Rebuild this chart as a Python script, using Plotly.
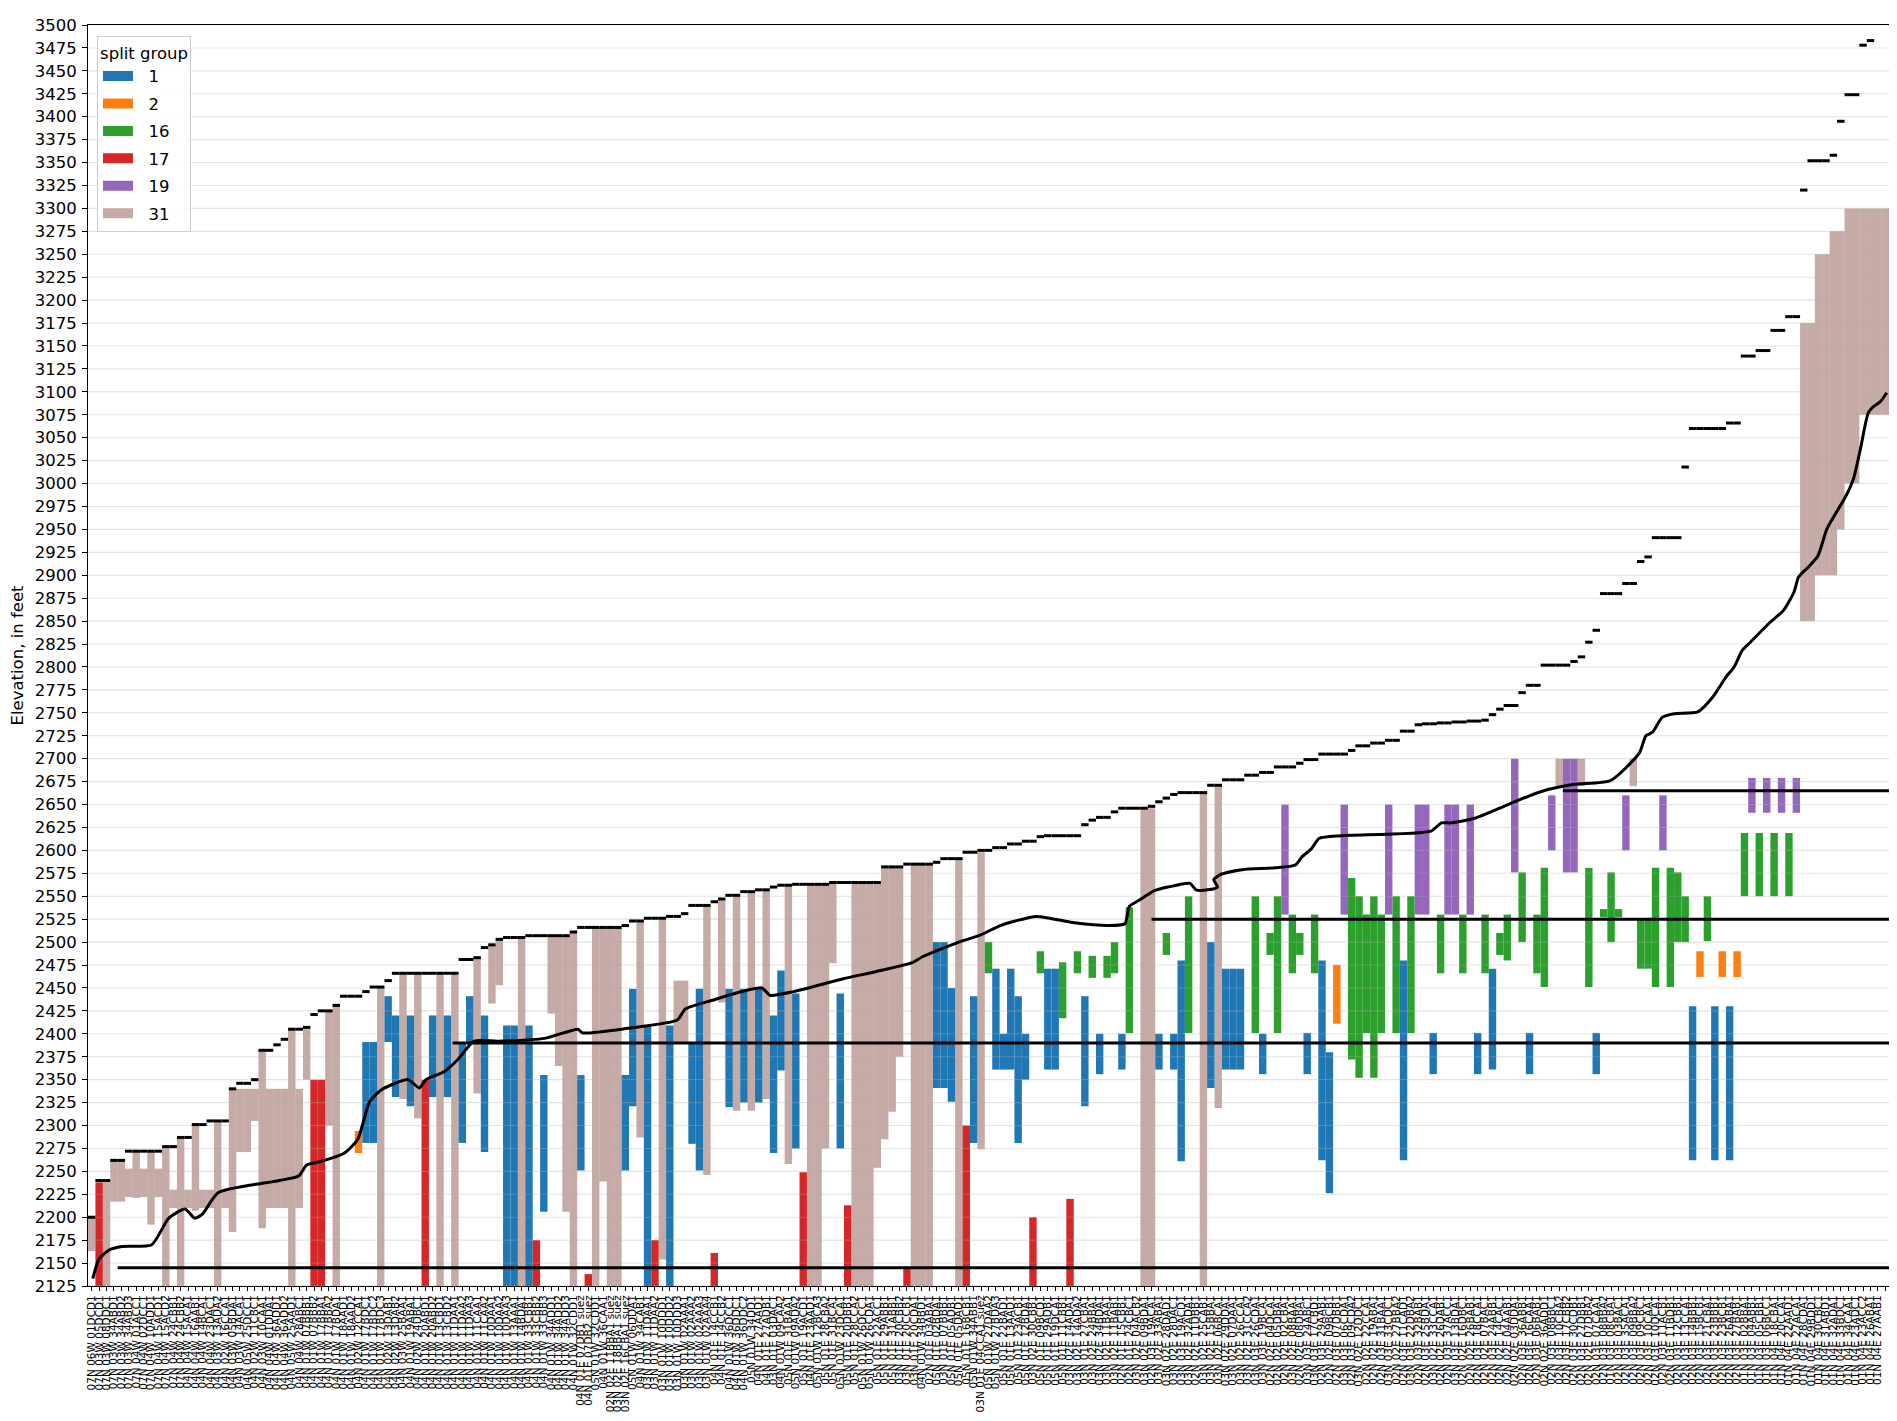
import plotly.graph_objects as go

# ---------------- data ----------------
labels = [
    "07N 06W 01DCD1","07N 03W 05DCD1","07N 03W 08DDC1","07N 03W 34ABD1","07N 03W 34ABD2","07N 03W 34ABD3","07N 04W 01ACC1","07N 04W 02DCC1","07N 04W 10ADD1","07N 04W 15ACD1",
    "07N 04W 15ACD2","07N 04W 24CBB1","07N 04W 24CBB2","04N 04W 15ACA1","04N 04W 16AAB1","04N 04W 14BCA1","04N 04W 23DAC1","04N 03W 13ADA2","04N 02W 16CCA1","04N 03W 05BDA1",
    "04N 03W 14ACA1","04N 05W 25DCC1","04N 02W 11CBC1","04N 03W 10CAA1","04N 04W 01DDA1","04N 04W 36ADD1","04N 04W 36ADD2","04N 05W 25AAD1","04N 04W 28ABC1","04N 01W 07BBB1",
    "04N 01W 07BBB2","04N 01W 17BBA1","04N 01W 17BBA2","04N 01W 17BDA1","04N 01W 18AAD1","04N 01W 18AAD2","04N 02W 12CCA1","04N 01W 17BDC1","04N 01W 17BDC2","04N 01W 17BDC3",
    "04N 02W 13DAB1","04N 02W 13DAB2","04N 03W 25BAA1","04N 01W 19ABA1","04N 02W 24DBC1","04N 01W 20ABD1","04N 01W 20ABD2","04N 01W 13CBD1","04N 01W 13CBD2","04N 01W 11DAA1",
    "04N 01W 11DAA2","04N 01W 11DAA3","04N 01W 11CAA1","04N 01W 11CAA2","04N 01W 10DAA1","04N 01W 10DAA2","04N 01W 10DAA3","04N 01W 13AAA1","04N 01W 14BDA1","04N 01W 33CBB1",
    "04N 01W 33CBB2","04N 01W 33CBB3","04N 01W 34ADD1","04N 01W 34ADD2","04N 01W 34ADD3","04N 01W 32CDD1","04N 01E 07DB1 suez","04N 01E 07DB2 suez","05N 01W 32CDD1","04N 01W 36CAA1",
    "02N 02E 11BBA1 suez","03N 02E 18BBA1 suez","03N 02E 16CBA1 suez","05N 01W 06DDA1","04N 01W 34CAB1","03N 01W 11DAA1","03N 01W 11DAA2","03N 01W 10DDD1","03N 01W 10DDD2","03N 01W 10DDD3",
    "03N 01W 02AAA1","03N 01W 02AAA2","03N 01W 02AAA3","03N 01W 02AAA4","04N 01E 14CCB1","04N 01E 14CCB2","04N 01W 36DCC1","04N 01W 36DDC1","04N 01W 36DDC2","05N 01W 34DD1",
    "04N 01E 27AAD1","04N 01E 27ADB1","03N 01E 03DAC1","04N 01W 09CAA2","05N 01E 31BAA1","05N 01W 09ADA2","05N 01E 19ACD1","04N 01E 23AAD1","05N 01W 12BCA3","05N 01E 28CBA2",
    "05N 01E 31BCA1","05N 01W 23DCA1","05N 01E 20DBB1","05N 01E 28CCA2","05N 01W 26DCC1","05N 01W 26CDA1","05N 01E 22ACC1","05N 01E 29ABB1","05N 01E 31ABB1","03N 01E 20CBB2",
    "03N 01E 20CCB1","03N 01E 20CDA1","04N 01W 34BBD1","02N 01E 03ABA1","05N 01E 02BDA1","03N 01E 07BBB1","05N 01E 05ADB1","05N 01E 05DAD1","05N 01E 16BCB1","05N 01W 34ABB1",
    "03N 01E 04CCA1 suez","05N 01W 27DAA2","05N 01W 27BDA3","05N 01E 22BAD1","05N 01E 13AAD1","05N 01E 23ACB1","05N 01E 12BDA1","03N 02E 30CBB1","05N 01E 09BCD1","05N 01E 29ADB1",
    "05N 01E 19DCA1","05N 01E 11CBB1","03N 02E 14ADA1","03N 02E 14ADA2","03N 01E 27CBA1","03N 02E 24BBA1","03N 02E 34BDA1","03N 02E 11BAA1","03N 02E 11BAB1","02N 01E 15CBB1",
    "02N 01E 24CBC1","03N 02E 04ACB2","03N 02E 09BDA1","02N 03E 19ACA1","03N 02E 33ABA1","03N 02E 28DAD1","03N 02E 28DAC1","03N 03E 19ACD1","03N 02E 32ADA1","02N 02E 11DBB1",
    "03N 02E 25CAB1","03N 02E 15BBA1","03N 02E 06BCA1","03N 02E 29DDA1","03N 02E 07DAA1","03N 02E 26CCA1","03N 02E 31CCA2","03N 03E 26CDA1","03N 03E 19BCA1","02N 02E 04DCA1",
    "02N 02E 05DBA1","02N 02E 02CBA1","03N 02E 08BAA1","02N 02E 08DBA1","03N 03E 24ABC1","03N 03E 17CBD1","02N 03E 29AAB1","02N 02E 09BCB1","02N 03E 07DBB1","03N 03E 06CDA1",
    "02N 03E 09CDA2","03N 02E 12DDC1","02N 02E 22CCA1","02N 02E 19ABA1","02N 03E 31BAA1","03N 03E 33CDC1","02N 02E 27BBA2","02N 03E 11CAD1","03N 03E 22DBA2","02N 03E 32BAB1",
    "02N 03E 25BDA1","03N 02E 33CCA1","02N 02E 26DAB1","02N 03E 37ACC1","03N 03E 13BDA1","02N 02E 16DBC1","02N 02E 26BAB1","02N 03E 18CCA1","02N 02E 07BAC1","02N 03E 24ABB1",
    "02N 02E 14CAC1","02N 02E 04AAB1","02N 02E 03DDA1","02N 03E 36ABB1","02N 03E 16CAA1","02N 03E 06BAB1","02N 02E 36ADD1","02N 03E 08BBC1","02N 03E 10CBA2","02N 03E 17CBB2",
    "02N 03E 30CDB1","02N 03E 27DBB1","02N 02E 07DBA2","02N 03E 07CAA1","02N 03E 08BBA2","01N 03E 08CBA1","02N 03E 03BAC1","02N 03E 35ACA1","02N 03E 09BBA2","02N 03E 09CBC1",
    "02N 03E 10CAA1","02N 03E 10DCA1","02N 03E 11ACB1","02N 03E 11BDB1","02N 03E 12CBB1","02N 03E 13CCA1","02N 03E 14BBB1","02N 03E 15BCB1","02N 03E 21CBA1","02N 03E 23BBB1",
    "02N 03E 23BCB1","02N 03E 26ABA1","02N 03E 27BAB1","01N 03E 02BBA1","01N 03E 04ABB1","01N 03E 05CBB1","01N 03E 06BCC1","01N 04E 18CBA1","01N 04E 20CCA1","01N 04E 22AAD1",
    "01N 04E 27ACA1","01N 04E 28CDA1","01N 04E 29BDD1","01N 04E 30CBC1","01N 04E 31ABD1","01N 04E 32ADA1","01N 04E 33BDC1","01N 04E 34CAA1","01N 04E 23ADC1","01N 04E 23ACC2",
    "01N 04E 26ABA1","01N 04E 27AAB1","01N 04E 23ABA2",
]

# land-surface elevation of each well (short black dashes)
land = [
    2200, 2240, 2240, 2262, 2262, 2272, 2272, 2272, 2272, 2272,
    2277, 2277, 2287, 2287, 2301, 2301, 2305, 2305, 2305, 2340,
    2346, 2346, 2350, 2382, 2382, 2388, 2394, 2405, 2405, 2407,
    2421, 2425, 2425, 2431, 2441, 2441, 2441, 2446, 2451, 2451,
    2458, 2466, 2466, 2466, 2466, 2466, 2466, 2466, 2466, 2466,
    2481, 2481, 2483, 2494, 2497, 2503, 2505, 2505, 2505, 2507,
    2507, 2507, 2507, 2507, 2507, 2511, 2516, 2516, 2516, 2516,
    2516, 2516, 2518, 2523, 2523, 2526, 2526, 2526, 2528, 2528,
    2531, 2540, 2540, 2540, 2544, 2547, 2551, 2551, 2555, 2555,
    2557, 2557, 2560, 2562, 2562, 2563, 2563, 2563, 2563, 2563,
    2565, 2565, 2565, 2565, 2565, 2565, 2565, 2582, 2582, 2582,
    2585, 2585, 2585, 2585, 2587, 2591, 2591, 2591, 2598, 2598,
    2600, 2600, 2603, 2603, 2607, 2607, 2610, 2610, 2615, 2616,
    2616, 2616, 2616, 2616, 2628, 2633, 2636, 2636, 2642, 2646,
    2646, 2646, 2646, 2648, 2653, 2657, 2661, 2663, 2663, 2663,
    2663, 2671, 2671, 2677, 2677, 2677, 2682, 2682, 2685, 2685,
    2691, 2691, 2691, 2695, 2699, 2699, 2705, 2705, 2705, 2705,
    2709, 2714, 2714, 2717, 2717, 2720, 2720, 2730, 2730, 2737,
    2738, 2738, 2739, 2739, 2740, 2740, 2741, 2741, 2742, 2748,
    2754, 2758, 2758, 2772, 2780, 2780, 2802, 2802, 2802, 2802,
    2806, 2811, 2827, 2840, 2880, 2880, 2880, 2891, 2891, 2915,
    2920, 2941, 2941, 2941, 2941, 3018, 3060, 3060, 3060, 3060,
    3060, 3066, 3066, 3139, 3139, 3145, 3145, 3167, 3167, 3182,
    3182, 3320, 3352, 3352, 3352, 3358, 3395, 3424, 3424, 3478,
    3483, None, None,
]

# split group 1
g1_well = [37, 38, 40, 41, 43, 46, 48, 50, 51, 53, 56, 57, 59, 61, 66, 72, 73, 75, 78, 81,
           82, 86, 88, 90, 92, 93, 95, 101, 114, 115, 116, 119, 122, 123, 124, 125, 126, 129, 130, 134,
           136, 139, 144, 146, 147, 151, 153, 154, 155, 158, 164, 166, 167, 177, 181, 187, 189, 194, 203, 216,
           219, 221]
g1_bot = [2281, 2281, 2391, 2331, 2321, 2331, 2331, 2281, 2391, 2271, 2125, 2125, 2125, 2206, 2251, 2251, 2321, 2125, 2125, 2280,
          2251, 2320, 2325, 2325, 2270, 2360, 2275, 2275, 2341, 2341, 2326, 2281, 2361, 2361, 2361, 2281, 2350, 2361, 2361, 2321,
          2356, 2361, 2361, 2361, 2261, 2341, 2361, 2361, 2361, 2356, 2356, 2262, 2226, 2262, 2356, 2356, 2361, 2356, 2356, 2262,
          2262, 2262]
g1_top = [2391, 2391, 2441, 2420, 2420, 2420, 2420, 2391, 2441, 2420, 2409, 2409, 2409, 2355, 2355, 2355, 2449, 2409, 2409, 2390,
          2449, 2449, 2449, 2449, 2420, 2469, 2444, 2444, 2500, 2500, 2450, 2441, 2471, 2400, 2471, 2441, 2400, 2471, 2471, 2441,
          2400, 2400, 2400, 2400, 2480, 2500, 2471, 2471, 2471, 2400, 2401, 2480, 2380, 2480, 2401, 2401, 2471, 2401, 2401, 2430,
          2430, 2430]

# split group 2
g2_well = [36, 168, 217, 220, 222]
g2_bot = [2270, 2411, 2462, 2462, 2462]
g2_top = [2294, 2475, 2490, 2490, 2490]

# split group 16
g16_well = [121, 128, 131, 133, 135, 137, 138, 140, 145, 148, 157, 159, 160, 162, 163, 165, 170, 171, 172, 173,
            174, 176, 178, 182, 185, 188, 190, 191, 193, 195, 196, 202, 204, 205, 206, 209, 210, 211, 213, 214,
            215, 218, 223, 225, 227, 229]
g16_bot = [2466, 2466, 2417, 2466, 2461, 2461, 2466, 2401, 2486, 2401, 2401, 2486, 2401, 2466, 2486, 2466, 2372, 2352, 2401, 2352,
           2401, 2401, 2401, 2466, 2466, 2466, 2486, 2480, 2500, 2466, 2451, 2451, 2527, 2500, 2527, 2471, 2471, 2451, 2451, 2500,
           2500, 2501, 2550, 2550, 2550, 2550]
g16_top = [2500, 2490, 2478, 2490, 2485, 2485, 2500, 2538, 2510, 2550, 2550, 2510, 2550, 2530, 2510, 2530, 2570, 2550, 2530, 2550,
           2530, 2550, 2550, 2530, 2530, 2530, 2510, 2530, 2576, 2530, 2581, 2581, 2536, 2576, 2536, 2525, 2525, 2581, 2581, 2576,
           2550, 2550, 2619, 2619, 2619, 2619]

# split group 17
g17_well = [1, 30, 31, 45, 60, 67, 76, 84, 96, 102, 110, 118, 127, 132]
g17_bot = [2125, 2125, 2125, 2125, 2125, 2125, 2125, 2125, 2125, 2125, 2125, 2125, 2125, 2125]
g17_top = [2238, 2350, 2350, 2350, 2175, 2138, 2175, 2161, 2249, 2213, 2146, 2300, 2200, 2220]

# split group 19
g19_well = [161, 169, 175, 179, 180, 183, 184, 186, 192, 197, 199, 200, 207, 212, 224, 226, 228, 230]
g19_bot = [2530, 2530, 2530, 2530, 2530, 2530, 2530, 2530, 2576, 2600, 2576, 2576, 2600, 2600, 2641, 2641, 2641, 2641]
g19_top = [2650, 2650, 2650, 2650, 2650, 2650, 2650, 2650, 2700, 2660, 2700, 2700, 2660, 2660, 2679, 2679, 2679, 2679]

# split group 31
g31_well = [0, 2, 3, 4, 5, 6, 7, 8, 9, 10, 11, 12, 13, 14, 15, 16, 17, 18, 19, 20,
            21, 22, 23, 24, 25, 26, 27, 28, 29, 32, 33, 39, 42, 44, 47, 49, 52, 54, 55, 58,
            62, 63, 64, 65, 68, 69, 70, 71, 74, 77, 79, 80, 83, 85, 87, 89, 91, 94, 97, 98,
            99, 100, 103, 104, 105, 106, 107, 108, 109, 111, 112, 113, 117, 120, 142, 143, 150, 152, 198, 201,
            208, 231, 232, 233, 234, 235, 236, 237, 238, 239, 240, 241, 242]
g31_bot = [2163, 2125, 2217, 2217, 2222, 2221, 2222, 2192, 2222, 2125, 2210, 2125, 2210, 2207, 2210, 2210, 2125, 2210, 2184, 2271,
           2271, 2305, 2188, 2210, 2210, 2210, 2125, 2210, 2350, 2300, 2125, 2125, 2329, 2308, 2125, 2125, 2335, 2433, 2453, 2125,
           2422, 2365, 2206, 2125, 2125, 2239, 2125, 2125, 2287, 2154, 2390, 2390, 2246, 2434, 2316, 2316, 2329, 2258, 2125, 2125,
           2275, 2477, 2125, 2125, 2125, 2254, 2285, 2315, 2375, 2125, 2125, 2125, 2125, 2274, 2125, 2125, 2125, 2319, 2670, 2670,
           2670, 2850, 2850, 2900, 2900, 2900, 2950, 3000, 3000, 3075, 3075, 3075, 3075]
g31_top = [2200, 2240, 2262, 2262, 2253, 2271, 2253, 2271, 2253, 2277, 2230, 2287, 2230, 2301, 2230, 2230, 2305, 2230, 2340, 2340,
           2340, 2340, 2382, 2340, 2340, 2340, 2405, 2340, 2405, 2425, 2431, 2451, 2466, 2466, 2466, 2466, 2484, 2497, 2503, 2505,
           2507, 2507, 2507, 2511, 2516, 2516, 2516, 2516, 2523, 2526, 2458, 2458, 2540, 2547, 2551, 2555, 2557, 2562, 2563, 2563,
           2563, 2565, 2565, 2565, 2565, 2565, 2582, 2582, 2582, 2585, 2585, 2585, 2591, 2598, 2646, 2646, 2663, 2671, 2700, 2700,
           2700, 3175, 3175, 3250, 3250, 3275, 3275, 3300, 3300, 3300, 3300, 3300, 3300]

# black profile curve
curve_x = [0.15, 0.96, 2.3, 4.1, 8.1, 10.4, 12.6, 13.9, 14.9, 17.1,
           27.9, 29.0, 31.0, 34.1, 35.9, 37.5, 39.1, 42.7, 44.2, 45.1,
           47.6, 49.4, 51.6, 54.8, 61.1, 65.6, 66.2, 72.3, 79.0, 80.1,
           83.5, 90.4, 91.5, 94.7, 101.4, 105.9, 110.8, 112.1, 117.0, 119.7,
           122.6, 124.6, 127.5, 132.6, 137.1, 139.4, 140.0, 141.2, 143.4, 145.2,
           148.2, 149.0, 150.6, 151.9, 151.4, 152.4, 155.2, 159.7, 162.4, 163.3,
           164.6, 165.6, 168.6, 180.7, 182.1, 183.4, 186.6, 191.1, 195.5, 200.0,
           204.9, 208.8, 209.7, 210.6, 211.9, 213.5, 216.7, 218.7, 220.5, 221.6,
           222.7, 223.8, 226.5, 228.3, 229.7, 230.3, 231.5, 232.9, 234.1, 235.5,
           236.6, 237.7, 238.6, 239.7, 240.4, 241.3, 242.2]
curve_y = [2133, 2154, 2164, 2168, 2170, 2199, 2209, 2199, 2203, 2227,
           2245, 2257, 2261, 2270, 2285, 2326, 2339, 2350, 2341, 2350,
           2359, 2372, 2392, 2392, 2395, 2405, 2401, 2406, 2415, 2427,
           2436, 2450, 2442, 2446, 2460, 2468, 2478, 2484, 2500, 2507,
           2518, 2523, 2528, 2521, 2518, 2520, 2539, 2545, 2556, 2560,
           2564, 2557, 2557, 2560, 2568, 2574, 2579, 2581, 2584, 2593,
           2602, 2613, 2616, 2621, 2630, 2630, 2635, 2650, 2664, 2672,
           2676, 2706, 2725, 2729, 2745, 2749, 2751, 2767, 2789, 2800,
           2818, 2827, 2849, 2862, 2882, 2898, 2908, 2921, 2950, 2970,
           2985, 3005, 3036, 3077, 3084, 3089, 3099]

# horizontal reference lines
hline_elev = [2145, 2390, 2525, 2665]
hline_start = [3.5, 48.7, 143.0, 198.5]

y_ticks = list(range(2125, 3501, 25))

# ---------------- styling ----------------
FONT = "DejaVu Sans"
colors = {"1": "#1f77b4", "2": "#ff7f0e", "16": "#2ca02c", "17": "#d62728",
          "19": "#9467bd", "31": "rgba(140,86,75,0.5)"}
legend_colors = {"1": "#1f77b4", "2": "#ff7f0e", "16": "#2ca02c", "17": "#d62728",
                 "19": "#9467bd", "31": "#c5aaa5"}

N = len(labels)
xmax = N - 0.5

groups = [
    ("1", g1_well, g1_bot, g1_top),
    ("2", g2_well, g2_bot, g2_top),
    ("16", g16_well, g16_bot, g16_top),
    ("17", g17_well, g17_bot, g17_top),
    ("19", g19_well, g19_bot, g19_top),
    ("31", g31_well, g31_bot, g31_top),
]

fig = go.Figure()

# brown first so the opaque groups sit on top
for name, w, b, t in [groups[5]] + groups[:5]:
    fig.add_trace(go.Bar(
        x=w, y=[tt - bb for bb, tt in zip(b, t)], base=b, width=1.0,
        marker=dict(color=colors[name], line=dict(width=0)),
        showlegend=False, hoverinfo="skip"))

# gridlines drawn above the bars (matplotlib default layering)
gx, gy = [], []
for v in y_ticks:
    gx += [-0.5, xmax, None]
    gy += [v, v, None]
fig.add_trace(go.Scatter(x=gx, y=gy, mode="lines",
                         line=dict(color="rgba(176,176,176,0.35)", width=1.1),
                         showlegend=False, hoverinfo="skip"))

# land surface dashes
sx, sy = [], []
for i, v in enumerate(land):
    if v is None:
        continue
    sx += [i - 0.5, i + 0.5, None]
    sy += [v, v, None]
fig.add_trace(go.Scatter(x=sx, y=sy, mode="lines", line=dict(color="black", width=3),
                         showlegend=False, hoverinfo="skip"))

# profile curve
fig.add_trace(go.Scatter(x=curve_x, y=curve_y, mode="lines",
                         line=dict(color="black", width=3, shape="spline", smoothing=0.6),
                         showlegend=False, hoverinfo="skip"))

# horizontal lines
hx, hy = [], []
for e, s in zip(hline_elev, hline_start):
    hx += [s, xmax, None]
    hy += [e, e, None]
fig.add_trace(go.Scatter(x=hx, y=hy, mode="lines", line=dict(color="black", width=3),
                         showlegend=False, hoverinfo="skip"))

# legend entries (wide rectangular patches)
NBSP = "\u00a0"
for name, _, _, _ in groups:
    fig.add_trace(go.Scatter(x=[None], y=[None], mode="lines",
                             line=dict(color=legend_colors[name], width=12),
                             name=NBSP * 2 + name, legendgroup=name, showlegend=True))

# the page body has an 8 px margin: size the figure so it fits the window exactly
fig.update_layout(
    width=1881, height=1405, autosize=False,
    margin=dict(l=80, r=0, t=17, b=127, pad=0),
    paper_bgcolor="white", plot_bgcolor="white",
    barmode="overlay",
    font=dict(family=FONT, size=16.5, color="black"),
    showlegend=True,
    legend=dict(
        x=0.005, y=0.991, xanchor="left", yanchor="top",
        bgcolor="rgba(255,255,255,0.85)", bordercolor="#cccccc", borderwidth=1,
        font=dict(family=FONT, size=16.5, color="black"),
        title=dict(text="split group", side="top center", font=dict(family=FONT, size=16.5)),
        tracegroupgap=3, itemwidth=30,
    ),
    xaxis=dict(
        range=[-0.5, xmax], tickmode="array", tickvals=list(range(N)), ticktext=labels,
        tickangle=-90, tickfont=dict(family=FONT, size=10.5, color="black"),
        ticks="outside", ticklen=4, tickwidth=1, tickcolor="black",
        showgrid=False, zeroline=False,
        showline=True, linecolor="black", linewidth=1, mirror=True,
    ),
    yaxis=dict(
        range=[2125, 3500], tickmode="array", tickvals=y_ticks,
        tickfont=dict(family=FONT, size=16.5, color="black"),
        ticks="outside", ticklen=5, tickwidth=1, tickcolor="black",
        ticklabelstandoff=2,
        showgrid=False, zeroline=False,
        showline=True, linecolor="black", linewidth=1, mirror=True,
        title=dict(text="Elevation, in feet", font=dict(family=FONT, size=16.5), standoff=8),
    ),
)

fig.write_html("out.html")
